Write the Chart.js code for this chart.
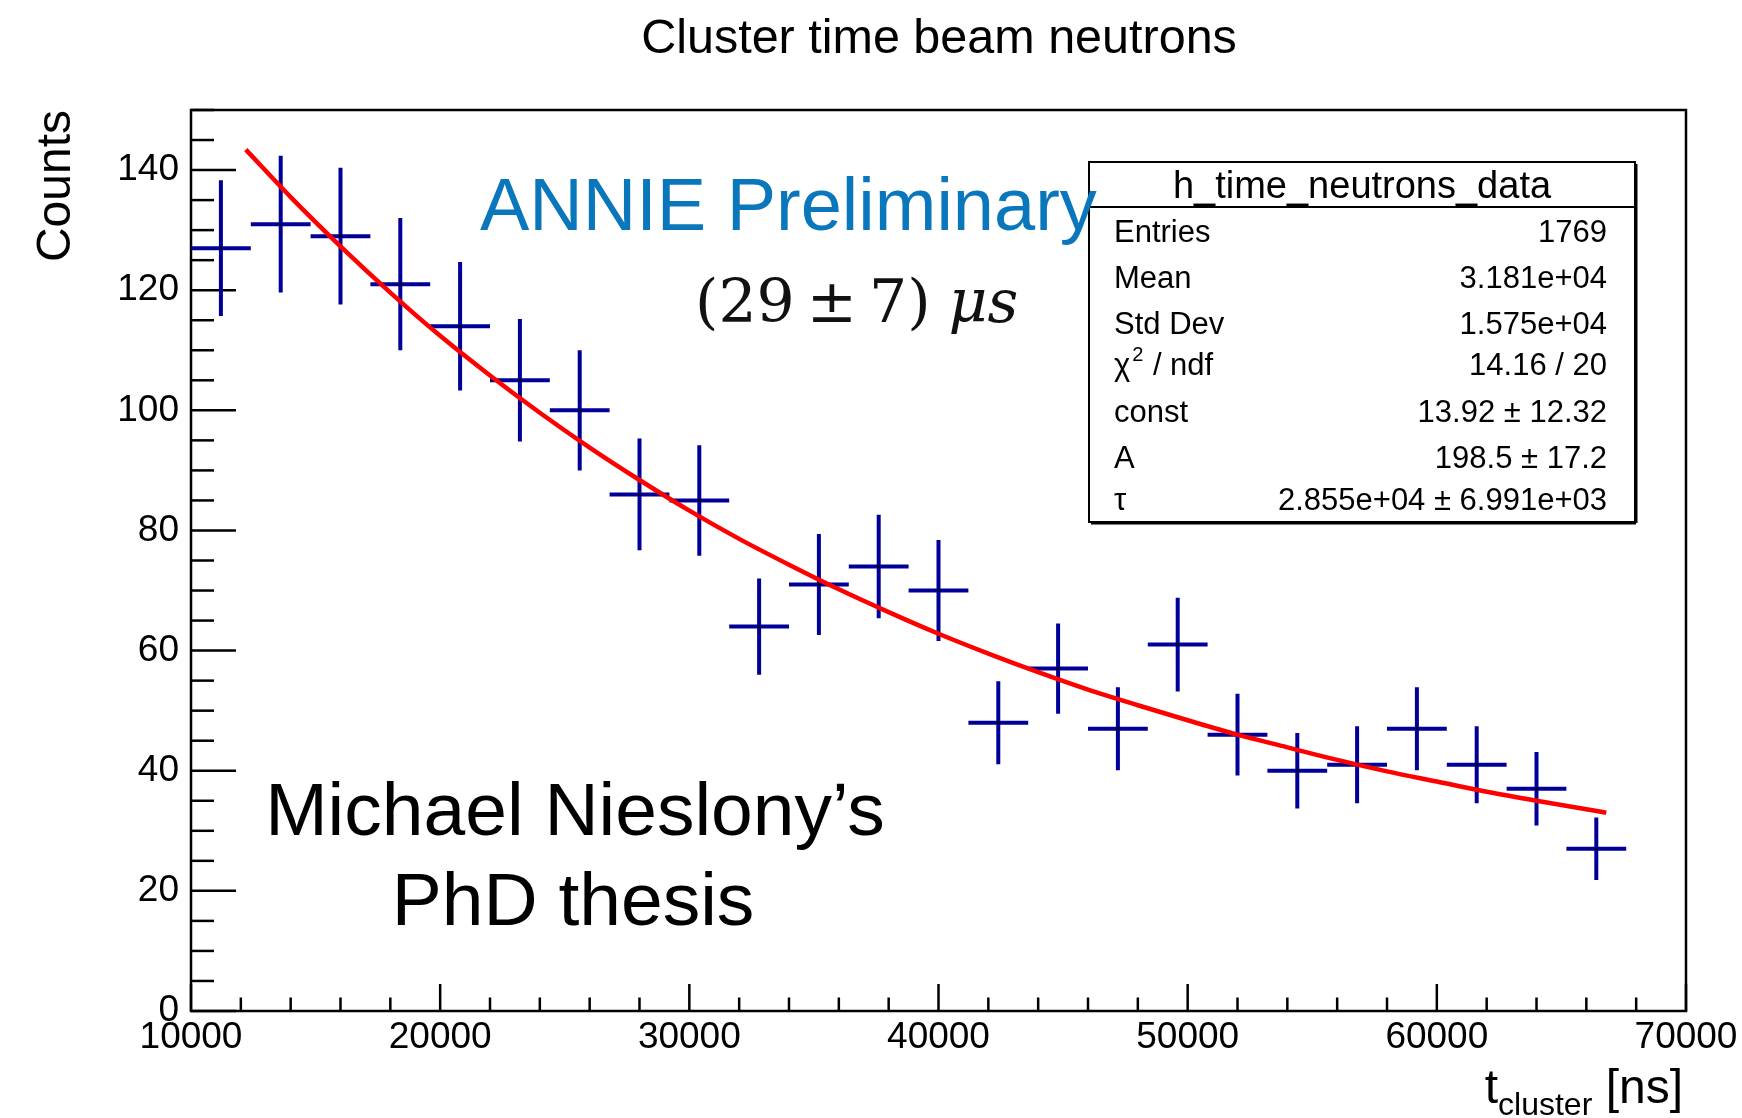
<!DOCTYPE html>
<html>
<head>
<meta charset="utf-8">
<title>Cluster time beam neutrons</title>
<script src="https://cdn.jsdelivr.net/npm/chart.js@4.4.1/dist/chart.umd.min.js"></script>
<style>
    html, body { margin: 0; padding: 0; background: #fff; }
    #wrap { position: relative; width: 1742px; height: 1118px; }
</style>
</head>
<body>
<div id="wrap"><canvas id="neutron-chart"></canvas></div>
<script>
// --- Data ---
const binCenters = [11200, 13600, 16000, 18400, 20800, 23200, 25600, 28000, 30400, 32800, 35200, 37600,
                    40000, 42400, 44800, 47200, 49600, 52000, 54400, 56800, 59200, 61600, 64000, 66400];
const binHalfWidth = 1200;
const counts = [127, 131, 129, 121, 114, 105, 100, 86, 85, 64, 71, 74,
                70, 48, 57, 47, 61, 46, 40, 41, 47, 41, 37, 27];
const countErrors = [11.3, 11.4, 11.4, 11.0, 10.7, 10.2, 10.0, 9.3, 9.2, 8.0, 8.4, 8.6,
                     8.4, 6.9, 7.5, 6.9, 7.8, 6.8, 6.3, 6.4, 6.9, 6.4, 6.1, 5.2];

// red fit curve
const fitTimes = [12200, 14000, 16000, 18000, 20000, 22000, 24000, 26000, 28000, 30000, 32000, 34000, 36000,
                  38000, 40000, 42000, 44000, 46000, 48000, 50000, 52000, 54000, 56000, 58000, 60000,
                  62000, 64000, 66000, 66800];
const fitValues = [143.4, 135.5, 127.3, 119.6, 112.4, 105.8, 99.6, 93.8, 88.4, 83.3, 78.6, 74.3, 70.2,
                   66.4, 62.8, 59.5, 56.4, 53.5, 50.9, 48.4, 46.0, 43.9, 41.8, 39.9, 38.2,
                   36.5, 35.0, 33.6, 33.0];

// axis tick labels
const xTickLabels = [10000, 20000, 30000, 40000, 50000, 60000, 70000];
const yTickLabels = [0, 20, 40, 60, 80, 100, 120, 140];

// stats box
const statsTitle = 'h_time_neutrons_data';
const statsLabels = ['Entries', 'Mean', 'Std Dev', 'chi2', 'const', 'A', 'τ'];
const statsValues = ['1769', '3.181e+04', '1.575e+04', '14.16 / 20', '13.92 ± 12.32', '198.5 ± 17.2', '2.855e+04 ± 6.991e+03'];

const SANS = '"Liberation Sans", Arial, Helvetica, sans-serif';

// build the error-bar crosses as broken line segments
const crossPoints = [];
binCenters.forEach((c, i) => {
    crossPoints.push({ x: c - binHalfWidth, y: counts[i] });
    crossPoints.push({ x: c + binHalfWidth, y: counts[i] });
    crossPoints.push({ x: c, y: null });
    crossPoints.push({ x: c, y: counts[i] - countErrors[i] });
    crossPoints.push({ x: c, y: counts[i] + countErrors[i] });
    crossPoints.push({ x: c, y: null });
});

const fitPoints = fitTimes.map((t, i) => ({ x: t, y: fitValues[i] }));
const centerPoints = binCenters.map((c, i) => ({ x: c, y: counts[i] }));

function line(ctx, x1, y1, x2, y2) {
    ctx.beginPath();
    ctx.moveTo(x1, y1);
    ctx.lineTo(x2, y2);
    ctx.stroke();
}

// frame + ticks drawn ROOT style (ticks inside the pad)
const rootFrame = {
    id: 'rootFrame',
    beforeDatasetsDraw(chart) {
        const { ctx, chartArea: a, scales: { x, y } } = chart;
        ctx.save();
        ctx.strokeStyle = '#000';
        ctx.lineWidth = 2.5;
        ctx.strokeRect(a.left, a.top, a.right - a.left, a.bottom - a.top);

        for (let v = 0; v <= 150; v += 5) {
            const py = y.getPixelForValue(v);
            const len = (v % 20 === 0) ? 45 : 23;
            line(ctx, a.left, py, a.left + len, py);
        }
        for (let t = 10000; t <= 70000; t += 2000) {
            const px = x.getPixelForValue(t);
            const len = (t % 10000 === 0) ? 27 : 13.5;
            line(ctx, px, a.bottom, px, a.bottom - len);
        }
        ctx.restore();
    },
    afterDraw(chart) {
        const { ctx, chartArea: a, scales: { x, y } } = chart;
        ctx.save();
        ctx.fillStyle = '#000';

        // tick labels
        ctx.font = '37px ' + SANS;
        ctx.textAlign = 'right';
        ctx.textBaseline = 'middle';
        yTickLabels.forEach(v => ctx.fillText(String(v), a.left - 12, y.getPixelForValue(v)));
        ctx.textAlign = 'center';
        ctx.textBaseline = 'alphabetic';
        xTickLabels.forEach(t => ctx.fillText(String(t), x.getPixelForValue(t), a.bottom + 37));

        // title
        ctx.font = '48.5px ' + SANS;
        ctx.fillText('Cluster time beam neutrons', 939, 53);

        // y axis title
        ctx.save();
        ctx.translate(70, a.top);
        ctx.rotate(-Math.PI / 2);
        ctx.textAlign = 'right';
        ctx.font = '48px ' + SANS;
        ctx.fillText('Counts', 0, 0);
        ctx.restore();

        // x axis title: t_cluster [ns]
        ctx.textAlign = 'left';
        const ns = ' [ns]';
        ctx.font = '32px ' + SANS;
        const subW = ctx.measureText('cluster').width;
        ctx.font = '48px ' + SANS;
        const nsW = ctx.measureText(ns).width;
        const tW = ctx.measureText('t').width;
        let xt = a.right - 3 - nsW - subW - tW;
        ctx.fillText('t', xt, 1103);
        ctx.font = '32px ' + SANS;
        ctx.fillText('cluster', xt + tW, 1115);
        ctx.font = '48px ' + SANS;
        ctx.fillText(ns, xt + tW + subW, 1103);

        // stats box
        const bx = 1089, by = 162, bw = 546, bh = 360;
        ctx.fillStyle = '#fff';
        ctx.fillRect(bx, by, bw, bh);
        ctx.strokeStyle = '#000';
        ctx.lineWidth = 2;
        ctx.strokeRect(bx, by, bw, bh);
        ctx.lineWidth = 3;
        line(ctx, bx + bw + 1, by + 2, bx + bw + 1, by + bh + 1);
        line(ctx, bx + 2, by + bh + 1, bx + bw + 1, by + bh + 1);
        ctx.lineWidth = 2;
        line(ctx, bx, 207, bx + bw, 207);

        ctx.fillStyle = '#000';
        ctx.font = '38px ' + SANS;
        ctx.textAlign = 'center';
        ctx.fillText(statsTitle, bx + bw / 2, 198);

        const rowY = [242, 288, 334, 375, 422, 468, 510];
        ctx.font = '31px ' + SANS;
        statsLabels.forEach((lab, i) => {
            ctx.textAlign = 'left';
            if (lab === 'chi2') {
                ctx.fillText('χ', 1114, rowY[i]);
                const cw = ctx.measureText('χ').width;
                ctx.font = '20px ' + SANS;
                ctx.fillText('2', 1114 + cw + 2, rowY[i] - 14);
                ctx.font = '31px ' + SANS;
                ctx.fillText(' / ndf', 1114 + cw + 14, rowY[i]);
            } else {
                ctx.fillText(lab, 1114, rowY[i]);
            }
            ctx.textAlign = 'right';
            ctx.fillText(statsValues[i], 1607, rowY[i]);
        });

        // overlay annotations
        ctx.textAlign = 'left';
        ctx.fillStyle = '#0a77bd';
        ctx.font = '74px ' + SANS;
        ctx.fillText('ANNIE Preliminary', 480, 230);

        ctx.fillStyle = '#111';
        ctx.font = '60px "DejaVu Serif", "Liberation Serif", serif';
        const part = '(29\u2009±\u20097)\u2009';
        ctx.fillText(part, 695, 322);
        const pw = ctx.measureText(part).width;
        ctx.font = 'italic 60px "DejaVu Serif", "Liberation Serif", serif';
        ctx.fillText('μs', 695 + pw + 6, 322);

        ctx.fillStyle = '#000';
        ctx.textAlign = 'center';
        ctx.font = '75px ' + SANS;
        ctx.fillText('Michael Nieslony’s', 575, 835);
        ctx.fillText('PhD thesis', 573, 925);

        ctx.restore();
    }
};

const config = {
    type: 'scatter',
    data: {
        datasets: [
            {
                label: 'fit',
                data: fitPoints,
                showLine: true,
                borderColor: '#ff0000',
                borderWidth: 4.5,
                pointRadius: 0,
                cubicInterpolationMode: 'monotone',
                order: 0
            },
            {
                label: 'centers',
                data: centerPoints,
                showLine: false,
                pointRadius: 1.5,
                pointBackgroundColor: '#000',
                pointBorderWidth: 0,
                order: 1
            },
            {
                label: 'h_time_neutrons_data',
                data: crossPoints,
                showLine: true,
                spanGaps: false,
                borderColor: '#000099',
                borderWidth: 4,
                pointRadius: 0,
                order: 2
            }
        ]
    },
    options: {
        responsive: true,
        maintainAspectRatio: false,
        animation: false,
        events: [],
        layout: {
            autoPadding: false,
            padding: { left: 191, right: 56, top: 110, bottom: 107 }
        },
        scales: {
            x: { type: 'linear', min: 10000, max: 70000, display: false },
            y: { type: 'linear', min: 0, max: 150, display: false }
        },
        plugins: {
            legend: { display: false },
            tooltip: { enabled: false },
            title: { display: false }
        }
    },
    plugins: [rootFrame]
};

new Chart(document.getElementById('neutron-chart'), config);
</script>
</body>
</html>
